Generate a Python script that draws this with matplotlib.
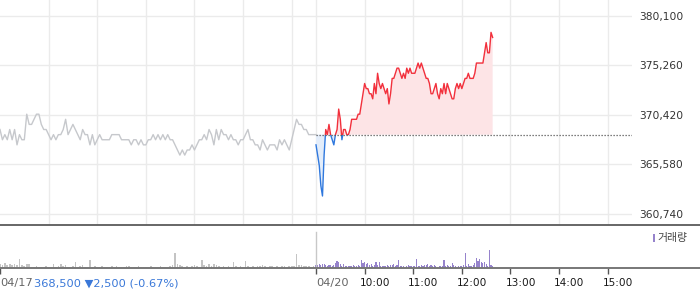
import numpy as np
import matplotlib
matplotlib.use("Agg")
import matplotlib.pyplot as plt
from matplotlib.patches import Rectangle
from matplotlib.lines import Line2D

plt.rcParams['font.family'] = ['DejaVu Sans', 'Noto Sans CJK KR']

# previous close (04/17) used as reference line
BASE = 368500

# 04/17 session, one price every 3 minutes from 09:00 to 15:30
prev_price = [
    369000, 368000, 368500, 368000, 369000, 368000, 369000, 367500, 368500, 368000,
    368000, 370500, 369500, 369500, 370000, 370500, 370500, 369500, 369000, 369000,
    368500, 368000, 368500, 368000, 368500, 368500, 369000, 370000, 368500, 369000,
    369500, 369000, 368500, 368000, 369000, 368500, 368500, 367500, 368500, 367500,
    368000, 368500, 368000, 368000, 368000, 368000, 368500, 368500, 368500, 368500,
    368000, 368000, 368000, 368000, 367500, 368000, 368000, 367500, 368000, 367500,
    367500, 368000, 368000, 368500, 368000, 368500, 368000, 368500, 368000, 368500,
    368000, 368000, 367500, 367000, 366500, 367000, 366500, 367000, 367000, 367500,
    367000, 367500, 368000, 368000, 368500, 368000, 369000, 368500, 367500, 369000,
    368000, 369000, 368500, 368500, 368000, 368500, 368000, 368000, 367500, 368000,
    368000, 368500, 369000, 368000, 368000, 367500, 367500, 367000, 368000, 367500,
    367000, 367500, 367500, 367500, 367000, 368000, 367500, 368000, 367500, 367000,
    368000, 369000, 370000, 369500, 369500, 369000, 369000, 368500, 368500, 368500,
    368500,
]
prev_volume = [
    4, 3, 5, 3, 4, 3, 4, 3, 9, 3,
    2, 4, 4, 1, 1, 2, 1, 1, 1, 2,
    1, 1, 4, 1, 2, 4, 2, 3, 1, 1,
    2, 6, 1, 2, 3, 1, 1, 8, 1, 2,
    1, 1, 2, 1, 1, 1, 2, 1, 2, 1,
    1, 1, 2, 2, 1, 1, 1, 2, 1, 1,
    1, 1, 2, 1, 1, 1, 2, 1, 1, 1,
    2, 3, 15, 4, 3, 2, 1, 2, 1, 2,
    3, 2, 1, 8, 3, 2, 4, 2, 4, 3,
    2, 1, 2, 1, 2, 1, 6, 2, 1, 2,
    1, 7, 2, 1, 2, 1, 2, 2, 3, 2,
    1, 2, 2, 1, 2, 1, 2, 2, 1, 2,
    2, 2, 14, 3, 3, 2, 2, 2, 1, 2,
    1,
]

# 04/20 session, one price every 2 minutes from 09:00 to 12:38
today_price = [
    367500, 366500, 365500, 363500, 362500, 366500, 369000, 368500, 369500, 368500,
    368000, 367500, 368500, 369000, 371000, 370000, 368000, 369000, 369000, 368500,
    368500, 369000, 370000, 370000, 370000, 370000, 370500, 370500, 371500, 372500,
    373500, 373000, 373000, 372500, 372500, 372000, 373500, 372500, 374500, 373500,
    373000, 373500, 373000, 372500, 373000, 371500, 372500, 374000, 374000, 374500,
    375000, 375000, 374500, 374000, 374500, 374000, 375000, 374500, 375000, 374500,
    374500, 374500, 375000, 375500, 375000, 375500, 375000, 374500, 374000, 374000,
    373500, 372500, 372500, 373000, 373500, 372500, 372000, 373000, 372500, 373500,
    372500, 373500, 373000, 372500, 372000, 372000, 373000, 373500, 373000, 373500,
    373000, 373500, 374000, 374000, 374500, 374000, 374000, 374000, 374500, 375500,
    375500, 375500, 375500, 375500, 376500, 377500, 376500, 376500, 378500, 378000,
]
today_volume = [
    3, 3, 4, 3, 4, 4, 3, 2, 3, 3,
    2, 3, 5, 7, 6, 4, 2, 4, 2, 2,
    2, 2, 2, 3, 2, 2, 3, 2, 8, 5,
    6, 4, 5, 3, 4, 2, 3, 6, 3, 6,
    2, 2, 2, 2, 3, 2, 3, 3, 4, 2,
    3, 8, 2, 2, 2, 1, 2, 3, 2, 2,
    2, 2, 9, 2, 2, 3, 2, 3, 3, 4,
    2, 3, 2, 3, 2, 1, 2, 2, 2, 8,
    2, 3, 2, 2, 5, 3, 2, 1, 2, 2,
    2, 3, 15, 2, 4, 2, 2, 3, 5, 10,
    7, 9, 6, 5, 6, 4, 2, 18, 3, 2,
]

y_ticks = [360740, 365580, 370420, 375260, 380100]
time_ticks = [450, 510, 570, 630, 690, 750]
time_labels = ["10:00", "11:00", "12:00", "13:00", "14:00", "15:00"]

GRAY = "#c6c8cc"
RED = "#f2303c"
BLUE = "#2f78de"
PURPLE = "#9683cc"


def px(v, total):
    return v / total


def main():
    W, H = 700, 289
    fig = plt.figure(figsize=(W / 100, H / 100), dpi=100)
    ax = fig.add_axes([0, px(64, H), px(632, W), px(225, H)])
    av = fig.add_axes([0, px(21, H), px(632, W), px(42, H)])

    t1 = np.arange(len(prev_price)) * 3
    t2 = 390 + np.arange(len(today_price)) * 2
    p1 = np.array(prev_price)
    p2 = np.array(today_price)

    # grid
    for t in list(range(60, 361, 60)) + [390] + time_ticks:
        ax.axvline(t, color="#ebebeb", lw=1, zorder=0)
    for y in y_ticks:
        ax.axhline(y, color="#ebebeb", lw=1, zorder=0)

    ax.plot(t1, p1, color=GRAY, lw=1.0, zorder=2)

    ax.fill_between(t2, p2, BASE, where=p2 >= BASE, interpolate=True,
                    color="#fde4e6", lw=0, zorder=1)
    ax.fill_between(t2, p2, BASE, where=p2 <= BASE, interpolate=True,
                    color="#e3edfa", lw=0, zorder=1)

    up, = ax.plot(t2, p2, color=RED, lw=1.0, zorder=3)
    dn, = ax.plot(t2, p2, color=BLUE, lw=1.0, zorder=3)
    up.set_clip_path(Rectangle((380, BASE), 500, 50000, transform=ax.transData))
    dn.set_clip_path(Rectangle((380, BASE - 50000), 500, 50000, transform=ax.transData))

    ax.plot([390, 780], [BASE, BASE], color="#555555", lw=0.9,
            linestyle=(0, (1, 1.4)), zorder=4)

    ax.set_xlim(0, 780)
    ax.set_ylim(359664, 381664)
    ax.set_xticks([])
    ax.yaxis.tick_right()
    ax.set_yticks(y_ticks)
    ax.set_yticklabels([f"{v:,}" for v in y_ticks])
    ax.tick_params(axis="y", length=0, pad=5, labelsize=7.7, labelcolor="#333333")
    for s in ax.spines.values():
        s.set_visible(False)

    # volume panel
    av.bar(t1, prev_volume, width=2.0, color="#c4c4c4", lw=0, align="center")
    av.bar(t2, today_volume, width=1.4, color=PURPLE, lw=0, align="center")
    av.axvline(390, ymax=36 / 42, color="#c8c8c8", lw=1)
    av.set_xlim(0, 780)
    av.set_ylim(0, 42)
    av.set_yticks([])
    av.set_xticks([0, 390] + time_ticks)
    av.set_xticklabels([])
    av.tick_params(axis="x", length=4, width=1, color="#555555")
    for s in av.spines.values():
        s.set_visible(False)

    # full width separators
    fig.add_artist(Line2D([0, 1], [px(H - 225, H)] * 2, color="#666666", lw=1.4))
    fig.add_artist(Line2D([0, 1], [px(H - 268, H)] * 2, color="#777777", lw=1.4))

    # x labels
    lab_y = px(H - 283, H)
    fig.text(0, lab_y, "04/17", color="#666666", fontsize=8.2, va="center")
    fig.text(px(33.5, W), lab_y, "368,500 \u25bc2,500 (-0.67%)", color="#3a78d8",
             fontsize=8.2, va="center")
    fig.text(px(316, W), lab_y, "04/20", color="#666666", fontsize=8.2, va="center")
    for t, lab in zip(time_ticks, time_labels):
        xp = t / 780 * 632 - 5
        fig.text(px(xp, W), lab_y, lab, color="#1a1a1a", fontsize=7.6, va="center")

    # legend
    fig.add_artist(Rectangle((px(652.5, W), px(H - 242, H)), px(2.5, W), px(8, H),
                             transform=fig.transFigure, color=PURPLE, lw=0))
    fig.text(px(657, W), px(H - 238, H), "거래량", color="#444444",
             fontsize=7.8, va="center")

    fig.savefig("out.png", dpi=100)


if __name__ == "__main__":
    main()
